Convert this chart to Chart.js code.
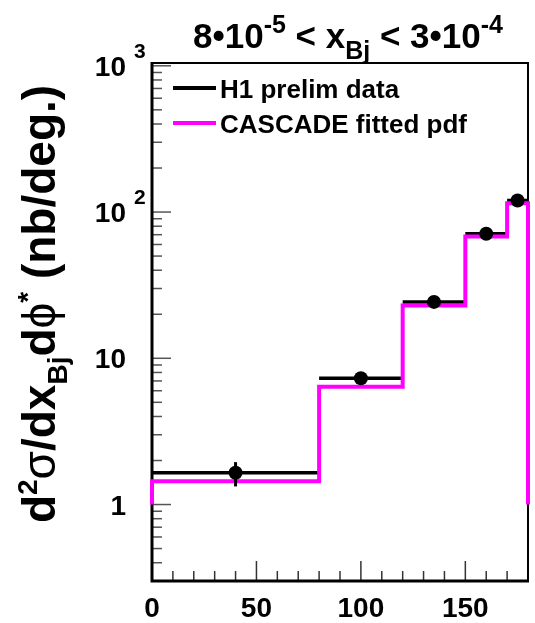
<!DOCTYPE html>
<html>
<head>
<meta charset="utf-8">
<script src="https://cdn.jsdelivr.net/npm/chart.js@4.4.1/dist/chart.umd.min.js"></script>
<style>
  html, body { margin: 0; padding: 0; background: #fff; }
  canvas { display: block; }
</style>
</head>
<body>
<canvas id="myChart" width="535" height="623"></canvas>
<script>
// phi* distribution, 8e-5 < x_Bj < 3e-4
const binEdges = [0, 80, 120, 150, 170, 180];
const h1Centers = [40, 100, 135, 160, 175];
const h1Values = [1.65, 7.3, 24.3, 71, 120];
const h1ErrUp = [0.3, 0.5, 1.5, 4, 7];
const h1ErrDown = [0.32, 0.5, 1.5, 4, 7];
const cascadeValues = [1.44, 6.4, 23, 68, 115];
const histBase = 1;

const xTickValues = [0, 50, 100, 150];
const yTickValues = [1, 10, 100, 1000];
const yTickBase = ["1", "10", "10", "10"];
const yTickExp = ["", "", "2", "3"];
const legendLabels = ["H1 prelim data", "CASCADE fitted pdf"];

const FONT = '"Liberation Sans", Arial, sans-serif';
const MAGENTA = "#ff00ff";

function stepPoints(vals) {
  let pts = [{ x: binEdges[0], y: histBase }];
  for (let i = 0; i < vals.length; i++) {
    pts.push({ x: binEdges[i], y: vals[i] });
    pts.push({ x: binEdges[i + 1], y: vals[i] });
  }
  pts.push({ x: binEdges[binEdges.length - 1], y: histBase });
  return pts;
}

// horizontal bin-width bars, broken between bins
function barPoints(vals) {
  let pts = [];
  for (let i = 0; i < vals.length; i++) {
    pts.push({ x: binEdges[i], y: vals[i] });
    pts.push({ x: binEdges[i + 1], y: vals[i] });
    pts.push({ x: binEdges[i + 1], y: null });
  }
  return pts;
}

function font(size, bold) {
  return (bold ? "bold " : "") + size + "px " + FONT;
}

// text made of pieces with their own size / offset (sup, sub)
function drawRich(ctx, parts, x, y, align) {
  let w = 0;
  for (let p of parts) {
    ctx.font = p.font;
    p.w = ctx.measureText(p.t).width;
    w += p.w;
  }
  let cx = align === "center" ? x - w / 2 : align === "right" ? x - w : x;
  ctx.textAlign = "left";
  ctx.textBaseline = "alphabetic";
  for (let p of parts) {
    ctx.font = p.font;
    ctx.fillText(p.t, cx, y + (p.dy || 0));
    cx += p.w;
  }
}

const rootStyle = {
  id: "rootStyle",
  beforeDatasetsDraw(chart) {
    const ctx = chart.ctx;
    const a = chart.chartArea;
    const xs = chart.scales.x;
    const ys = chart.scales.y;
    ctx.save();

    // ticks on the inside
    ctx.lineWidth = 1.5;
    ctx.strokeStyle = "#333";
    for (let v = 10; v < xs.max; v += 10) {
      let px = xs.getPixelForValue(v);
      let len = v % 50 === 0 ? 20 : 10;
      ctx.beginPath();
      ctx.moveTo(px, a.bottom);
      ctx.lineTo(px, a.bottom - len);
      ctx.stroke();
    }
    ctx.strokeStyle = "#555";
    for (let d = -1; d <= 3; d++) {
      for (let m = 1; m <= 9; m++) {
        let v = m * Math.pow(10, d);
        if (v <= ys.min || v >= ys.max) continue;
        let py = ys.getPixelForValue(v);
        let len = m === 1 ? 19 : 10;
        ctx.beginPath();
        ctx.moveTo(a.left, py);
        ctx.lineTo(a.left + len, py);
        ctx.stroke();
      }
    }

    // frame
    ctx.strokeStyle = "#000";
    ctx.lineWidth = 2;
    ctx.beginPath();
    ctx.moveTo(a.left, a.top);
    ctx.lineTo(a.right, a.top);
    ctx.lineTo(a.right, a.bottom);
    ctx.stroke();
    ctx.lineWidth = 3;
    ctx.beginPath();
    ctx.moveTo(a.left, a.top - 1);
    ctx.lineTo(a.left, a.bottom);
    ctx.lineTo(a.right + 1, a.bottom);
    ctx.stroke();
    ctx.restore();
  },
  afterDatasetsDraw(chart) {
    const ctx = chart.ctx;
    const xs = chart.scales.x;
    const ys = chart.scales.y;
    ctx.save();
    // vertical error bars
    ctx.strokeStyle = "#000";
    ctx.lineWidth = 3;
    for (let i = 0; i < h1Values.length; i++) {
      let px = xs.getPixelForValue(h1Centers[i]);
      ctx.beginPath();
      ctx.moveTo(px, ys.getPixelForValue(h1Values[i] + h1ErrUp[i]));
      ctx.lineTo(px, ys.getPixelForValue(h1Values[i] - h1ErrDown[i]));
      ctx.stroke();
    }
    ctx.restore();
  },
  afterDraw(chart) {
    const ctx = chart.ctx;
    const a = chart.chartArea;
    const xs = chart.scales.x;
    const ys = chart.scales.y;
    ctx.save();
    ctx.fillStyle = "#000";

    // x tick labels
    ctx.font = font(28, true);
    ctx.textAlign = "center";
    ctx.textBaseline = "alphabetic";
    xTickValues.forEach((v) => {
      ctx.fillText(String(v), xs.getPixelForValue(v), 617);
    });

    // y tick labels
    yTickValues.forEach((v, i) => {
      let py = ys.getPixelForValue(v);
      ctx.font = font(28, true);
      ctx.textAlign = "right";
      ctx.fillText(yTickBase[i], 126, py + 10);
      if (yTickExp[i]) {
        ctx.font = font(21, true);
        ctx.textAlign = "left";
        ctx.fillText(yTickExp[i], 134, py - 8);
      }
    });

    // title
    const S = 35;
    const sup = { font: font(Math.round(S * 0.7), true), dy: -0.42 * S };
    const sub = { font: font(Math.round(S * 0.7), true), dy: 0.3 * S };
    drawRich(ctx, [
      { t: "8•10", font: font(S, true) },
      Object.assign({ t: "-5" }, sup),
      { t: " < x", font: font(S, true) },
      Object.assign({ t: "Bj" }, sub),
      { t: " < 3•10", font: font(S, true) },
      Object.assign({ t: "-4" }, sup),
    ], (a.left + a.right) / 2 + 8, 48, "center");

    // y axis title, rotated
    const T = 46;
    ctx.save();
    ctx.translate(55, 304);
    ctx.rotate(-Math.PI / 2);
    drawRich(ctx, [
      { t: "d", font: font(T, true) },
      { t: "2", font: font(Math.round(T * 0.6), true), dy: -0.4 * T },
      { t: "σ", font: font(T, false) },
      { t: "/dx", font: font(T, true) },
      { t: "Bj", font: font(Math.round(T * 0.6), true), dy: 0.25 * T },
      { t: "d", font: font(T, true) },
      { t: "ϕ", font: font(T, false) },
      { t: "*", font: font(Math.round(T * 0.6), true), dy: -0.4 * T },
      { t: " (nb/deg.)", font: font(T, true) },
    ], 0, 0, "center");
    ctx.restore();

    // legend
    const legendY = [88, 123];
    const legendColor = ["#000", MAGENTA];
    legendLabels.forEach((txt, i) => {
      ctx.strokeStyle = legendColor[i];
      ctx.lineWidth = 4;
      ctx.beginPath();
      ctx.moveTo(173, legendY[i]);
      ctx.lineTo(216, legendY[i]);
      ctx.stroke();
      ctx.font = font(26, true);
      ctx.textAlign = "left";
      ctx.textBaseline = "alphabetic";
      ctx.fillText(txt, 220, legendY[i] + 10);
    });
    ctx.restore();
  },
};

const ctx = document.getElementById("myChart").getContext("2d");
const myChart = new Chart(ctx, {
  type: "line",
  data: {
    datasets: [
      {
        type: "scatter",
        label: "points",
        data: h1Centers.map((x, i) => ({ x: x, y: h1Values[i] })),
        pointRadius: 7,
        pointBackgroundColor: "#000",
        pointBorderWidth: 0,
        showLine: false,
        order: 0,
      },
      {
        label: legendLabels[1],
        data: stepPoints(cascadeValues),
        borderColor: MAGENTA,
        borderWidth: 4,
        pointRadius: 0,
        tension: 0,
        clip: false,
        order: 1,
      },
      {
        label: legendLabels[0],
        data: barPoints(h1Values),
        borderColor: "#000",
        borderWidth: 3.5,
        borderCapStyle: "butt",
        pointRadius: 0,
        tension: 0,
        spanGaps: false,
        order: 2,
      },
    ],
  },
  options: {
    responsive: false,
    devicePixelRatio: 1,
    animation: false,
    layout: { padding: { left: 152, right: 1, top: 63, bottom: 42 } },
    scales: {
      x: { type: "linear", min: 0, max: 180, display: false },
      y: { type: "logarithmic", min: 0.3, max: 1045, display: false },
    },
    plugins: {
      legend: { display: false },
      tooltip: { enabled: false },
    },
  },
  plugins: [rootStyle],
});
</script>
</body>
</html>
